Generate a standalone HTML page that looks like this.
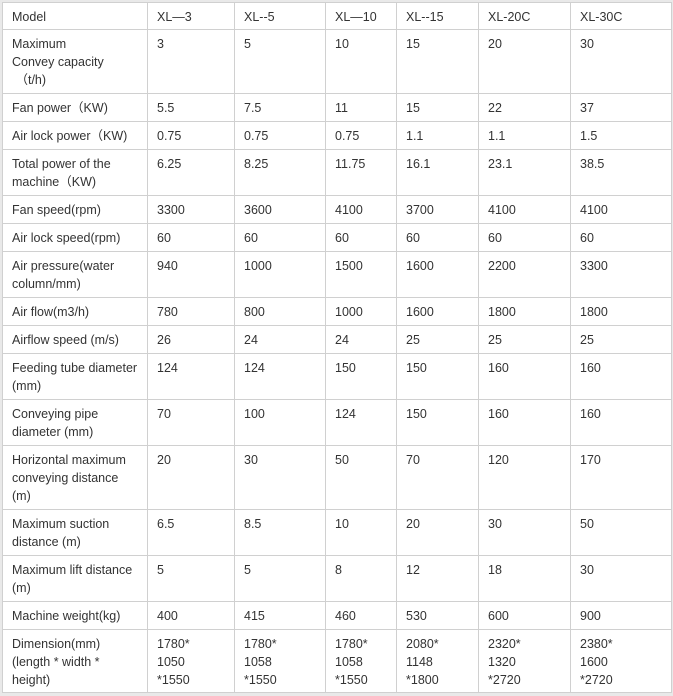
<!DOCTYPE html>
<html><head><style>
html,body{margin:0;padding:0;background:#e9e9e9;width:673px;height:696px;overflow:hidden}
table{position:absolute;left:2px;top:2px;border-collapse:collapse;background:#fff;table-layout:fixed;width:669px;font-family:"Liberation Sans",sans-serif;font-size:12.5px;color:#333}
td{border:1px solid #d0d0d0;vertical-align:top;padding:5px 8px 0 9px;line-height:18px;overflow:hidden}
</style></head><body>
<table>
<colgroup><col style="width:145px"><col style="width:87px"><col style="width:91px"><col style="width:71px"><col style="width:82px"><col style="width:92px"><col style="width:101px"></colgroup>
<tr style="height:27px"><td>Model</td><td>XL—3</td><td>XL--5</td><td>XL—10</td><td>XL--15</td><td>XL-20C</td><td>XL-30C</td></tr>
<tr style="height:64px"><td>Maximum<br>Convey capacity<br>&nbsp;（t/h)</td><td>3</td><td>5</td><td>10</td><td>15</td><td>20</td><td>30</td></tr>
<tr style="height:28px"><td>Fan power（KW)</td><td>5.5</td><td>7.5</td><td>11</td><td>15</td><td>22</td><td>37</td></tr>
<tr style="height:28px"><td>Air lock power（KW)</td><td>0.75</td><td>0.75</td><td>0.75</td><td>1.1</td><td>1.1</td><td>1.5</td></tr>
<tr style="height:46px"><td>Total power of the machine（KW)</td><td>6.25</td><td>8.25</td><td>11.75</td><td>16.1</td><td>23.1</td><td>38.5</td></tr>
<tr style="height:28px"><td>Fan speed(rpm)</td><td>3300</td><td>3600</td><td>4100</td><td>3700</td><td>4100</td><td>4100</td></tr>
<tr style="height:28px"><td>Air lock speed(rpm)</td><td>60</td><td>60</td><td>60</td><td>60</td><td>60</td><td>60</td></tr>
<tr style="height:46px"><td>Air pressure(water column/mm)</td><td>940</td><td>1000</td><td>1500</td><td>1600</td><td>2200</td><td>3300</td></tr>
<tr style="height:28px"><td>Air flow(m3/h)</td><td>780</td><td>800</td><td>1000</td><td>1600</td><td>1800</td><td>1800</td></tr>
<tr style="height:28px"><td>Airflow speed (m/s)</td><td>26</td><td>24</td><td>24</td><td>25</td><td>25</td><td>25</td></tr>
<tr style="height:46px"><td>Feeding tube diameter (mm)</td><td>124</td><td>124</td><td>150</td><td>150</td><td>160</td><td>160</td></tr>
<tr style="height:46px"><td>Conveying pipe diameter (mm)</td><td>70</td><td>100</td><td>124</td><td>150</td><td>160</td><td>160</td></tr>
<tr style="height:64px"><td>Horizontal maximum conveying distance (m)</td><td>20</td><td>30</td><td>50</td><td>70</td><td>120</td><td>170</td></tr>
<tr style="height:46px"><td>Maximum suction distance (m)</td><td>6.5</td><td>8.5</td><td>10</td><td>20</td><td>30</td><td>50</td></tr>
<tr style="height:46px"><td>Maximum lift distance (m)</td><td>5</td><td>5</td><td>8</td><td>12</td><td>18</td><td>30</td></tr>
<tr style="height:28px"><td>Machine weight(kg)</td><td>400</td><td>415</td><td>460</td><td>530</td><td>600</td><td>900</td></tr>
<tr style="height:63px"><td>Dimension(mm)<br>(length * width * height)</td><td>1780*<br>1050<br>*1550</td><td>1780*<br>1058<br>*1550</td><td>1780*<br>1058<br>*1550</td><td>2080*<br>1148<br>*1800</td><td>2320*<br>1320<br>*2720</td><td>2380*<br>1600<br>*2720</td></tr>
</table>
</body></html>
